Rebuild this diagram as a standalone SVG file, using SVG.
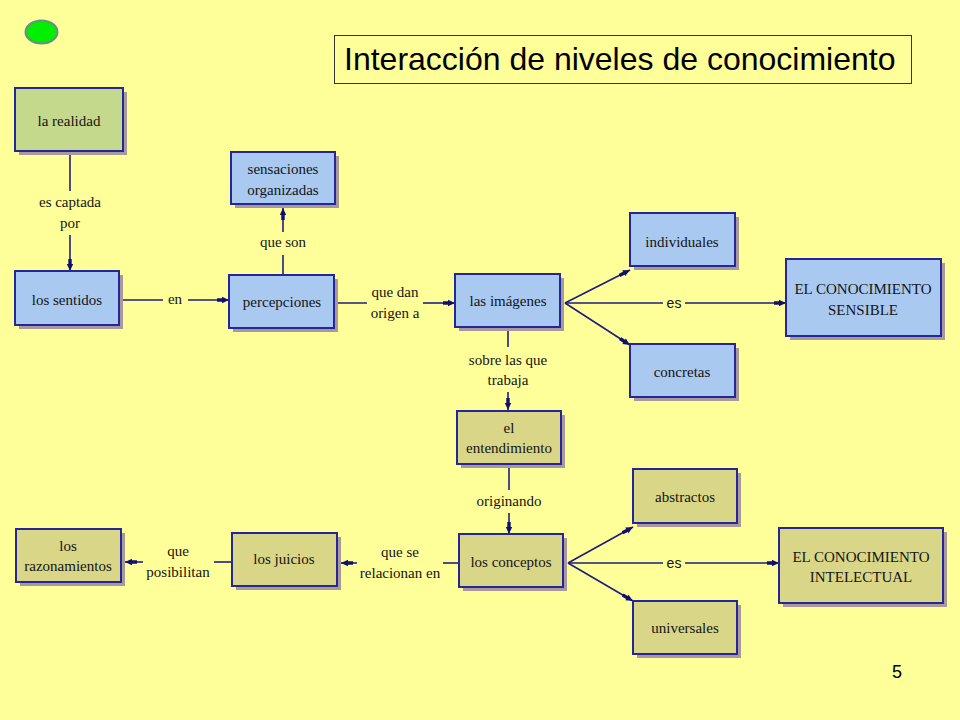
<svg xmlns="http://www.w3.org/2000/svg" width="960" height="720" viewBox="0 0 960 720">
<defs>
<style>
.bg{fill:#ffff99}
.sh{fill:#a89a9a}
.box{stroke:#26269c;stroke-width:2}
.blue{fill:#a9c9f0}
.green{fill:#c4d98c}
.olive{fill:#d9d688}
.t{font-family:"Liberation Serif","DejaVu Serif",serif;font-size:15px;fill:#141414;text-anchor:middle}
.l{font-family:"Liberation Serif","DejaVu Serif",serif;font-size:15px;fill:#141414;text-anchor:middle}
.ls{font-family:"Liberation Sans",Arial,sans-serif;font-size:14px;fill:#141414;text-anchor:middle}
.c{stroke:#1e1e80;stroke-width:1.6;fill:none}
.a{marker-end:url(#arr)}
</style>
<marker id="arr" viewBox="0 0 12 8" refX="12" refY="4" markerWidth="12" markerHeight="8" markerUnits="userSpaceOnUse" orient="auto">
<path d="M0,2.3 L5,2.3 L5,0.8 L12,4 L5,7.2 L5,5.7 L0,5.7 z" fill="#101070"/>
</marker>
</defs>
<rect class="bg" x="0" y="0" width="960" height="720"/>
<ellipse cx="41.5" cy="32" rx="16" ry="11.5" fill="#00ee00" stroke="#6a8c8c" stroke-width="2"/>
<g id="title">
<rect x="334.5" y="35.5" width="577" height="48" fill="none" stroke="#333" stroke-width="1"/>
<text x="344" y="70" font-family="'Liberation Sans',Arial,sans-serif" font-size="32" fill="#000">Interacción de niveles de conocimiento</text>
</g>
<g id="connectors">
<line class="c" x1="70" y1="151" x2="70" y2="191"/>
<text class="l" x="70" y="207">es captada</text>
<text class="l" x="70" y="228">por</text>
<line class="c a" x1="70" y1="235" x2="70" y2="271"/>
<line class="c" x1="119" y1="300" x2="163" y2="300"/>
<text class="l" x="175" y="304">en</text>
<line class="c a" x1="188" y1="300" x2="229" y2="300"/>
<line class="c" x1="283" y1="275" x2="283" y2="255"/>
<text class="l" x="283" y="247">que son</text>
<line class="c a" x1="283" y1="232" x2="283" y2="208"/>
<line class="c" x1="334" y1="303" x2="367" y2="303"/>
<text class="l" x="395" y="297">que dan</text>
<text class="l" x="395" y="318">origen a</text>
<line class="c a" x1="423" y1="303" x2="455" y2="303"/>
<line class="c" x1="508" y1="327" x2="508" y2="347"/>
<text class="l" x="508" y="365">sobre las que</text>
<text class="l" x="508" y="385">trabaja</text>
<line class="c a" x1="508" y1="392" x2="508" y2="410"/>
<line class="c a" x1="565" y1="303" x2="630" y2="270"/>
<line class="c a" x1="565" y1="303" x2="630" y2="345"/>
<line class="c" x1="565" y1="303" x2="663" y2="303"/>
<text class="ls" x="674" y="308">es</text>
<line class="c a" x1="685" y1="303" x2="786" y2="303"/>
<line class="c" x1="509" y1="464" x2="509" y2="490"/>
<text class="l" x="509" y="506">originando</text>
<line class="c a" x1="509" y1="513" x2="509" y2="534"/>
<line class="c" x1="459" y1="563" x2="443" y2="563"/>
<text class="l" x="400" y="557">que se</text>
<text class="l" x="400" y="578">relacionan en</text>
<line class="c a" x1="357" y1="563" x2="341" y2="563"/>
<line class="c" x1="232" y1="562" x2="214" y2="562"/>
<text class="l" x="178" y="556">que</text>
<text class="l" x="178" y="577">posibilitan</text>
<line class="c a" x1="143" y1="562" x2="125" y2="562"/>
<line class="c a" x1="568" y1="563" x2="633" y2="527"/>
<line class="c a" x1="568" y1="563" x2="633" y2="601"/>
<line class="c" x1="568" y1="563" x2="663" y2="563"/>
<text class="ls" x="674" y="568">es</text>
<line class="c a" x1="685" y1="563" x2="779" y2="563"/>
</g>
<g id="la-realidad">
<rect class="sh" x="19" y="92" width="108" height="63"/>
<rect class="box green" x="15" y="88" width="108" height="63"/>
<text class="t" x="69" y="126">la realidad</text>
</g>
<g id="los-sentidos">
<rect class="sh" x="19" y="275" width="104" height="54"/>
<rect class="box blue" x="15" y="271" width="104" height="54"/>
<text class="t" x="67" y="305">los sentidos</text>
</g>
<g id="sensaciones">
<rect class="sh" x="235" y="156" width="104" height="52"/>
<rect class="box blue" x="231" y="152" width="104" height="52"/>
<text class="t" x="283" y="174">sensaciones</text>
<text class="t" x="283" y="195">organizadas</text>
</g>
<g id="percepciones">
<rect class="sh" x="233" y="279" width="105" height="53"/>
<rect class="box blue" x="229" y="275" width="105" height="53"/>
<text class="t" x="282" y="307">percepciones</text>
</g>
<g id="las-imagenes">
<rect class="sh" x="459" y="278" width="105" height="53"/>
<rect class="box blue" x="455" y="274" width="105" height="53"/>
<text class="t" x="508" y="306">las imágenes</text>
</g>
<g id="individuales">
<rect class="sh" x="634" y="217" width="105" height="53"/>
<rect class="box blue" x="630" y="213" width="105" height="53"/>
<text class="t" x="682" y="247">individuales</text>
</g>
<g id="concretas">
<rect class="sh" x="634" y="348" width="105" height="53"/>
<rect class="box blue" x="630" y="344" width="105" height="53"/>
<text class="t" x="682" y="377">concretas</text>
</g>
<g id="conocimiento-sensible">
<rect class="sh" x="790" y="263" width="155" height="77"/>
<rect class="box blue" x="786" y="259" width="155" height="77"/>
<text class="t" x="863" y="294">EL CONOCIMIENTO</text>
<text class="t" x="863" y="315">SENSIBLE</text>
</g>
<g id="el-entendimiento">
<rect class="sh" x="461" y="415" width="104" height="53"/>
<rect class="box olive" x="457" y="411" width="104" height="53"/>
<text class="t" x="509" y="433">el</text>
<text class="t" x="509" y="453">entendimiento</text>
</g>
<g id="los-conceptos">
<rect class="sh" x="463" y="538" width="104" height="53"/>
<rect class="box olive" x="459" y="534" width="104" height="53"/>
<text class="t" x="511" y="567">los conceptos</text>
</g>
<g id="los-juicios">
<rect class="sh" x="236" y="537" width="105" height="53"/>
<rect class="box olive" x="232" y="533" width="105" height="53"/>
<text class="t" x="284" y="564">los juicios</text>
</g>
<g id="los-razonamientos">
<rect class="sh" x="20" y="533" width="105" height="53"/>
<rect class="box olive" x="16" y="529" width="105" height="53"/>
<text class="t" x="68" y="551">los</text>
<text class="t" x="68" y="571">razonamientos</text>
</g>
<g id="abstractos">
<rect class="sh" x="637" y="473" width="104" height="54"/>
<rect class="box olive" x="633" y="469" width="104" height="54"/>
<text class="t" x="685" y="502">abstractos</text>
</g>
<g id="universales">
<rect class="sh" x="637" y="605" width="104" height="53"/>
<rect class="box olive" x="633" y="601" width="104" height="53"/>
<text class="t" x="685" y="633">universales</text>
</g>
<g id="conocimiento-intelectual">
<rect class="sh" x="783" y="532" width="164" height="75"/>
<rect class="box olive" x="779" y="528" width="164" height="75"/>
<text class="t" x="861" y="562">EL CONOCIMIENTO</text>
<text class="t" x="861" y="582">INTELECTUAL</text>
</g>
<text x="897" y="678" font-family="'Liberation Sans',Arial,sans-serif" font-size="18" fill="#000" text-anchor="middle">5</text>
</svg>
